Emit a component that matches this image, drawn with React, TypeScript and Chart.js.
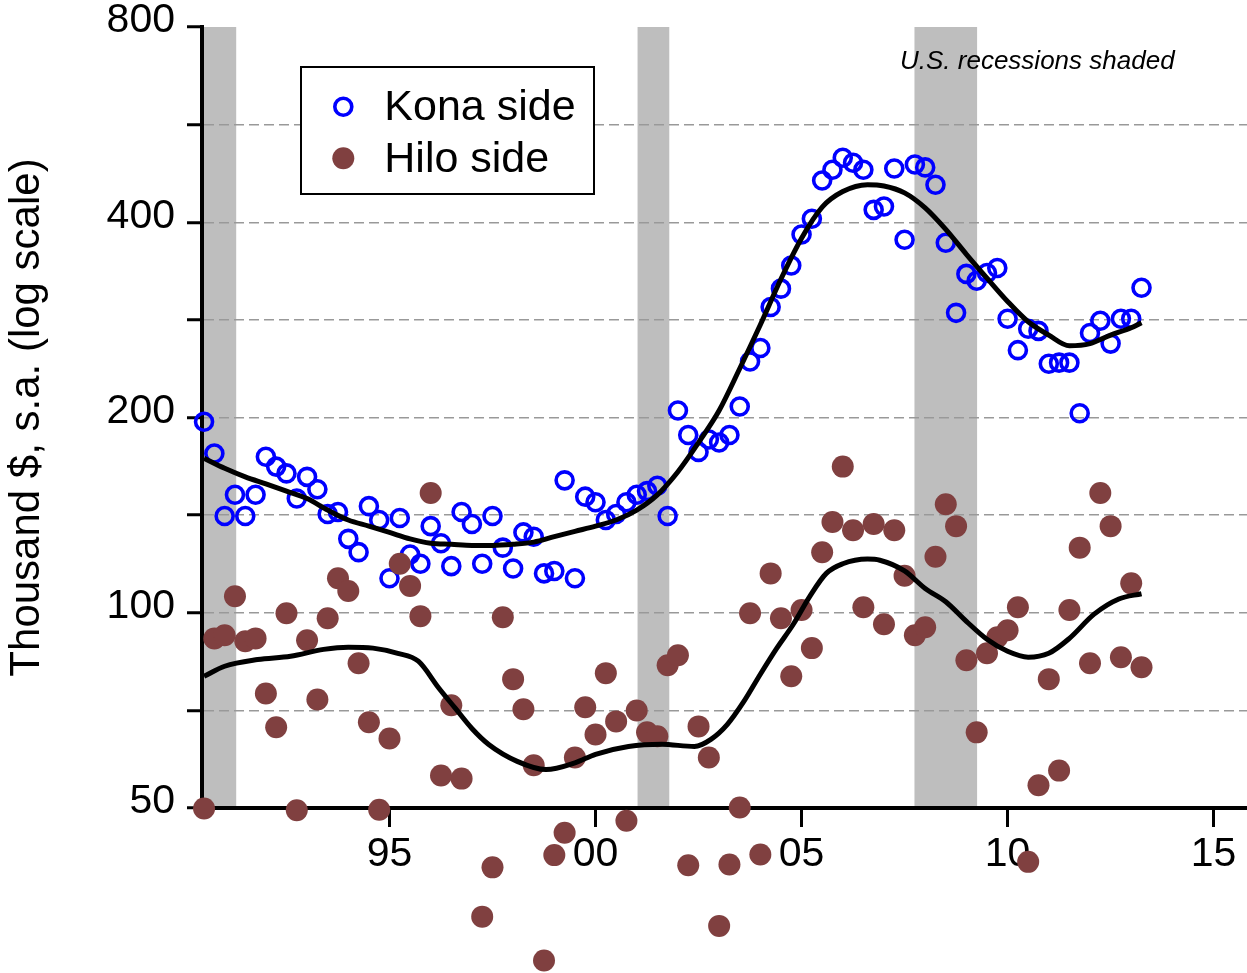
import React, { useEffect, useRef } from "react";
import { Chart, registerables } from "chart.js";

Chart.register(...registerables);

const FONT_FAMILY = "'Liberation Sans', Arial, Helvetica, sans-serif";

// Quarterly observations, first one is 1990 Q3 (plotted at 1990.5)
const FIRST_QUARTER = 1990.5;
const QUARTER_STEP = 0.25;

// Kona side, thousand $ (s.a.)
const KONA_VALUES: number[] = [
  197, 176, 141, 152, 141, 152, 174, 168, 164, 150,
  162, 155, 142, 143, 130, 124, 146, 139, 113, 140,
  123, 119, 136, 128, 118, 143, 137, 119, 141, 126,
  117, 133, 131, 115, 116, 160, 113, 151, 148, 139,
  142, 148, 152, 154, 157, 141, 205, 188, 177, 185,
  183, 188, 208, 244, 256, 296, 316, 343, 383, 405,
  464, 482, 503, 494, 482, 418, 423, 484, 376, 491,
  486, 457, 372, 290, 333, 325, 334, 340, 284, 254,
  274, 272, 242, 243, 243, 203, 270, 282, 260, 284,
  284, 317,
];

// Hilo side, thousand $ (s.a.)
const HILO_VALUES: (number | null)[] = [
  49.9, 91.3, 92.3, 106, 90.4, 91.3, 75.1, 66.6, 99.8, 49.6,
  90.7, 73.5, 98.1, 113, 108, 83.6, 67.8, 49.7, 64.0, 119,
  110, 98.8, 153, 56.1, 72.0, 55.5, null, 34.0, 40.5, 98.4,
  79.0, 71.0, 58.2, 29.1, 42.3, 45.8, 59.8, 71.5, 64.9, 80.7,
  68.0, 47.8, 70.7, 65.4, 64.5, 83.0, 86.0, 40.8, 66.8, 59.8,
  32.9, 40.9, 50.1, 99.8, 42.4, 115, 98.1, 79.8, 101, 88.2,
  124, 138, 168, 134, 102, 137, 96.0, 134, 114, 92.3,
  95.0, 122, 147, 136, 84.5, 65.4, 86.6, 91.7, 94.0, 102,
  41.3, 54.2, 79.0, 57.1, 101, 126, 83.6, 153, 136, 85.4,
  111, 82.4,
];

// Smoothed trends (knots)
const KONA_TREND_YEARS = [
  1990.5, 1991, 1991.5, 1992, 1992.5, 1993, 1993.5, 1994, 1994.5, 1995,
  1995.5, 1996, 1996.5, 1997, 1997.5, 1998, 1998.5, 1999, 1999.5, 2000,
  2000.5, 2001, 2001.5, 2002, 2002.5, 2003, 2003.5, 2004, 2004.5, 2005,
  2005.5, 2006, 2006.6, 2007, 2007.5, 2008, 2008.5, 2009, 2009.5, 2010,
  2010.5, 2011, 2011.5, 2012, 2012.5, 2013, 2013.25,
];
const KONA_TREND_VALUES = [
  173, 167, 162, 158, 154, 150, 144, 139, 136, 133,
  130, 128, 127.5, 127, 127, 127.5, 128.5, 131, 133.5, 136,
  139, 144, 152, 165, 183, 205, 238, 278, 327, 378,
  422, 446, 457, 455, 444, 421, 390, 357, 328, 302,
  281, 268, 258, 260, 268, 275, 280,
];

const HILO_TREND_YEARS = [
  1990.5, 1991, 1991.8, 1992.6, 1993.4, 1994, 1994.6, 1995.2, 1995.7, 1996.2,
  1996.6, 1997, 1997.4, 1998.1, 1998.8, 1999.5, 2000, 2000.8, 2001.6, 2002.4,
  2002.8, 2003.2, 2003.6, 2004, 2004.4, 2004.8, 2005.2, 2005.6, 2006, 2006.6,
  2006.9, 2007.5, 2008, 2008.5, 2009, 2009.5, 2010, 2010.5, 2011, 2011.5,
  2012.1, 2012.7, 2013.25,
];
const HILO_TREND_VALUES = [
  79.8, 82.7, 84.7, 85.7, 87.8, 88.5, 88.2, 86.6, 84.2, 76.5,
  71.2, 66.3, 62.7, 59.0, 57.3, 58.7, 60.5, 62.2, 62.7, 62.2,
  63.8, 67.3, 73.0, 80.4, 88.2, 96.0, 106, 115, 119, 121,
  120.5, 116, 109, 104, 97, 91, 87.2, 85.4, 86.6, 91.3,
  99.5, 105, 107,
];

// U.S. recessions (shaded)
const RECESSION_STARTS = [1990.45, 2001.02, 2007.74];
const RECESSION_ENDS = [1991.28, 2001.79, 2009.26];

// Axes
const X_MIN = 1990.45;
const X_MAX = 2015.81;
const X_TICK_YEARS = [1995, 2000, 2005, 2010, 2015];
const X_TICK_LABELS = ["95", "00", "05", "10", "15"];
const Y_MIN = 50;
const Y_MAX = 800;
const Y_LABELED_TICKS = [50, 100, 200, 400, 800];
const Y_HALF_TICKS = [70.71, 141.42, 282.84, 565.69];

const KONA_COLOR = "#0000ff";
const HILO_COLOR = "#804040";
const RECESSION_COLOR = "#bebebe";

const recessionPlugin = {
  id: "recessionShading",
  beforeDraw(chart: any) {
    const { ctx, chartArea, scales } = chart;
    const xs = scales.x;
    ctx.save();
    ctx.fillStyle = RECESSION_COLOR;
    RECESSION_STARTS.forEach((s, i) => {
      const x0 = xs.getPixelForValue(s);
      const x1 = xs.getPixelForValue(RECESSION_ENDS[i]);
      ctx.fillRect(x0, chartArea.top, x1 - x0, chartArea.bottom - chartArea.top);
    });
    ctx.restore();
  },
};

// Chart.js skips points outside the chart area; the reference shows them below the axis.
const overflowPointsPlugin = {
  id: "overflowPoints",
  afterDatasetsDraw(chart: any) {
    const area = chart.chartArea;
    const big = { left: -1e5, top: -1e5, right: 1e5, bottom: 1e5, width: 2e5, height: 2e5 };
    chart.data.datasets.forEach((_ds: any, di: number) => {
      const meta = chart.getDatasetMeta(di);
      meta.data.forEach((el: any) => {
        if (!el || el.skip) return;
        const o = el.options || {};
        if (!o.radius || o.radius < 0.1) return;
        const m = (o.radius || 0) + (o.borderWidth || 0);
        const inside =
          el.x > area.left - m && el.x < area.right + m &&
          el.y > area.top - m && el.y < area.bottom + m;
        if (!inside) el.draw(chart.ctx, big);
      });
    });
  },
};

const legendPlugin = {
  id: "boxLegend",
  afterDatasetsDraw(chart: any) {
    const { ctx, chartArea } = chart;
    const left = chartArea.left + 99;
    const top = chartArea.top + 40;
    const w = 293;
    const h = 127;
    ctx.save();
    ctx.fillStyle = "#ffffff";
    ctx.fillRect(left, top, w, h);
    ctx.strokeStyle = "#000000";
    ctx.lineWidth = 2;
    ctx.strokeRect(left, top, w, h);

    const ds = chart.data.datasets;
    // Kona marker
    ctx.beginPath();
    ctx.arc(left + 42.3, top + 39.7, 8.5, 0, Math.PI * 2);
    ctx.lineWidth = 3.6;
    ctx.strokeStyle = KONA_COLOR;
    ctx.stroke();
    // Hilo marker
    ctx.beginPath();
    ctx.arc(left + 42.3, top + 91.3, 11, 0, Math.PI * 2);
    ctx.fillStyle = HILO_COLOR;
    ctx.fill();

    ctx.fillStyle = "#000000";
    ctx.font = `43px ${FONT_FAMILY}`;
    ctx.textBaseline = "alphabetic";
    ctx.textAlign = "left";
    ctx.fillText(ds[0].label, left + 83.3, top + 53);
    ctx.fillText(ds[1].label, left + 83.3, top + 104.7);

    ctx.font = `italic 26px ${FONT_FAMILY}`;
    ctx.fillText("U.S. recessions shaded", chartArea.right - 347, chartArea.top + 42);
    ctx.restore();
  },
};

export default function App() {
  const canvasRef = useRef<HTMLCanvasElement | null>(null);

  useEffect(() => {
    if (!canvasRef.current) return;
    Chart.defaults.font.family = FONT_FAMILY;
    Chart.defaults.color = "#000000";

    const konaPoints = KONA_VALUES.map((v, i) => ({ x: FIRST_QUARTER + i * QUARTER_STEP, y: v }));
    const hiloPoints = HILO_VALUES.map((v, i) => ({ x: FIRST_QUARTER + i * QUARTER_STEP, y: v }));
    const konaTrend = KONA_TREND_YEARS.map((yr, i) => ({ x: yr, y: KONA_TREND_VALUES[i] }));
    const hiloTrend = HILO_TREND_YEARS.map((yr, i) => ({ x: yr, y: HILO_TREND_VALUES[i] }));

    const chart = new Chart(canvasRef.current, {
      type: "scatter",
      data: {
        datasets: [
          {
            label: "Kona side",
            data: konaPoints,
            pointRadius: 8.5,
            pointBorderWidth: 3.6,
            pointBorderColor: KONA_COLOR,
            pointBackgroundColor: "rgba(0,0,0,0)",
            borderColor: KONA_COLOR,
            backgroundColor: "rgba(0,0,0,0)",
            clip: false,
            order: 3,
          },
          {
            label: "Hilo side",
            data: hiloPoints,
            pointRadius: 11,
            pointBorderWidth: 0,
            pointBackgroundColor: HILO_COLOR,
            backgroundColor: HILO_COLOR,
            borderColor: HILO_COLOR,
            clip: false,
            order: 2,
          },
          {
            type: "line",
            label: "Kona trend",
            data: konaTrend,
            borderColor: "#000000",
            borderWidth: 5,
            pointRadius: 0,
            showLine: true,
            fill: false,
            cubicInterpolationMode: "monotone",
            clip: false,
            order: 1,
          } as any,
          {
            type: "line",
            label: "Hilo trend",
            data: hiloTrend,
            borderColor: "#000000",
            borderWidth: 5,
            pointRadius: 0,
            showLine: true,
            fill: false,
            cubicInterpolationMode: "monotone",
            clip: false,
            order: 1,
          } as any,
        ],
      },
      options: {
        responsive: false,
        maintainAspectRatio: false,
        animation: false,
        devicePixelRatio: 1,
        events: [],
        layout: { autoPadding: false, padding: { top: 27, right: 0, bottom: 0, left: 0 } },
        plugins: {
          legend: { display: false },
          tooltip: { enabled: false },
          title: { display: false },
        },
        scales: {
          x: {
            type: "linear",
            min: X_MIN,
            max: X_MAX,
            afterFit: (s: any) => {
              s.height = 165;
              s.paddingLeft = 0;
              s.paddingRight = 0;
              s.paddingTop = 0;
              s.paddingBottom = 0;
            },
            afterBuildTicks: (s: any) => {
              s.ticks = X_TICK_YEARS.map((v) => ({ value: v }));
            },
            grid: {
              display: true,
              drawOnChartArea: false,
              drawTicks: true,
              tickLength: 19,
              tickWidth: 3,
              tickColor: "#000000",
            },
            border: { display: true, color: "#000000", width: 4 },
            ticks: {
              color: "#000000",
              font: { size: 41, family: FONT_FAMILY, lineHeight: 1.2 },
              padding: 3,
              maxRotation: 0,
              minRotation: 0,
              autoSkip: false,
              callback: (value: any) => {
                const idx = X_TICK_YEARS.indexOf(Number(value));
                return idx >= 0 ? X_TICK_LABELS[idx] : "";
              },
            },
          },
          y: {
            type: "logarithmic",
            min: Y_MIN,
            max: Y_MAX,
            afterFit: (s: any) => {
              s.width = 202;
              s.paddingLeft = 0;
              s.paddingRight = 0;
              s.paddingTop = 0;
              s.paddingBottom = 0;
            },
            afterBuildTicks: (s: any) => {
              const all = [...Y_LABELED_TICKS, ...Y_HALF_TICKS].sort((a, b) => a - b);
              s.ticks = all.map((v) => ({ value: v }));
            },
            grid: {
              display: true,
              drawOnChartArea: true,
              drawTicks: true,
              color: (c: any) => {
                const v = c.tick ? c.tick.value : null;
                return v === Y_MIN || v === Y_MAX ? "rgba(0,0,0,0)" : "#999999";
              },
              lineWidth: 1.5,
              tickLength: 15,
              tickWidth: 3,
              tickColor: "#000000",
              tickBorderDash: [],
            },
            border: { display: true, color: "#000000", width: 4, dash: [10, 5] },
            ticks: {
              color: "#000000",
              font: { size: 41, family: FONT_FAMILY, lineHeight: 1.2 },
              padding: 12,
              labelOffset: -6,
              autoSkip: false,
              callback: (value: any) =>
                Y_LABELED_TICKS.indexOf(Number(value)) >= 0 ? String(value) : "",
            },
            title: {
              display: true,
              text: "Thousand $, s.a. (log scale)",
              color: "#000000",
              font: { size: 42, family: FONT_FAMILY, lineHeight: 1.2 },
              padding: { top: 2, bottom: 0 },
            },
          },
        },
      },
      plugins: [recessionPlugin, overflowPointsPlugin, legendPlugin],
    } as any);

    return () => {
      chart.destroy();
    };
  }, []);

  return (
    <div
      style={{
        position: "fixed",
        left: 0,
        top: 0,
        width: 1247,
        height: 973,
        background: "#ffffff",
        overflow: "hidden",
      }}
    >
      <canvas
        ref={canvasRef}
        width={1247}
        height={973}
        style={{ display: "block", width: 1247, height: 973 }}
      />
    </div>
  );
}
